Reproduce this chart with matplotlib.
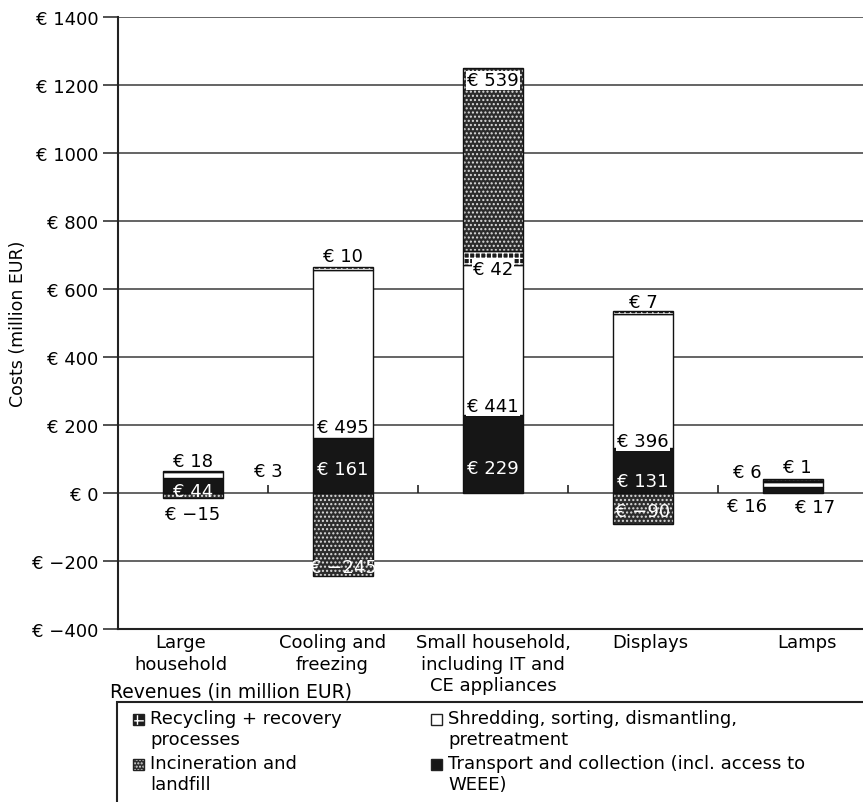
import numpy as np
import matplotlib
matplotlib.use('Agg')
from matplotlib import pyplot as plt
from matplotlib.patches import Rectangle
from matplotlib.ticker import FuncFormatter

# WEEE treatment costs per product category (million EUR), negatives are revenues
categories = ['Large\nhousehold', 'Cooling and\nfreezing',
              'Small household,\nincluding IT and\nCE appliances', 'Displays', 'Lamps']
transport = [44, 161, 229, 131, 17]
shredding = [18, 495, 441, 396, 16]
recycling = [3, 10, 42, 7, 1]
incineration = [-15, -245, 539, -90, 6]

series_names = ['Recycling + recovery\nprocesses', 'Incineration and\nlandfill',
                'Shredding, sorting, dismantling,\npretreatment',
                'Transport and collection (incl. access to\nWEEE)']

yticks = [-400, -200, 0, 200, 400, 600, 800, 1000, 1200, 1400]

FS = 13
plt.rcParams['font.family'] = ['DejaVu Sans']
plt.rcParams['hatch.linewidth'] = 1.0

def euro(v):
    return ('€ %d' % v).replace('-', '\u2212')

# fill / hatch styles of the four stacks (bottom to top)
styles = {
    'transport': dict(color='#161616', hatch=None, hatch_col=None),
    'shredding': dict(color='white', hatch=None, hatch_col=None),
    'recycling': dict(color='#1c1c1c', hatch='+++', hatch_col='white'),
    'incineration': dict(color='#2c2c2c', hatch='....', hatch_col='#dddddd'),
}

# label offsets in pixels from the segment centre, and text colours
label_off = {
    'transport': [(0, -5), (0, -3), (0, -14), (0, -10), (22, -17)],
    'shredding': [(0, 14), (0, -73), (0, -66), (0, -60), (-46, -22)],
    'recycling': [(75, 0), (0, 12), (0, -11), (0, 11), (4, 15)],
    'incineration': [(0, -18), (0, -32), (0, 79), (0, -3), (-46, 8)],
}
label_col = {
    'transport': ['white', 'white', 'white', 'white', 'black'],
    'shredding': ['black'] * 5,
    'recycling': ['black'] * 5,
    'incineration': ['black', 'white', 'black', 'white', 'black'],
}
label_box = {
    'transport': [False] * 5,
    'shredding': [False, True, True, True, False],
    'recycling': [False, False, True, False, False],
    'incineration': [False, False, True, False, False],
}

fig = plt.figure(figsize=(8.63, 8.03), dpi=100)
ax = fig.add_axes([118 / 863, 1 - 630 / 803, 750 / 863, 612 / 803])

x = np.arange(len(categories))
w = 0.4
pos_base = np.zeros(len(x))
neg_base = np.zeros(len(x))
data = [('transport', transport), ('shredding', shredding),
        ('recycling', recycling), ('incineration', incineration)]

for name, vals in data:
    vals = np.array(vals, dtype=float)
    bottoms = np.where(vals >= 0, pos_base, neg_base)
    st = styles[name]
    if st['hatch']:
        ax.bar(x, vals, w, bottom=bottoms, color=st['color'], hatch=st['hatch'],
               edgecolor=st['hatch_col'], linewidth=0, zorder=3)
        ax.bar(x, vals, w, bottom=bottoms, fill=False, edgecolor='#111111',
               linewidth=1.0, zorder=4)
    else:
        ax.bar(x, vals, w, bottom=bottoms, color=st['color'], edgecolor='#111111',
               linewidth=1.0, zorder=3)
    mids = bottoms + vals / 2
    for i in range(len(x)):
        dx, dy = label_off[name][i]
        kw = {}
        if label_box[name][i]:
            kw['bbox'] = dict(facecolor='white', edgecolor='none', pad=0.5)
        ax.annotate(euro(vals[i]), (x[i], mids[i]), xytext=(dx, dy),
                    textcoords='offset pixels', ha='center', va='center',
                    fontsize=FS, color=label_col[name][i], zorder=6, **kw)
    pos_base += np.clip(vals, 0, None)
    neg_base += np.clip(vals, None, 0)

# small separators between categories on the zero line
ax.vlines(x[:-1] + 0.5, 0, 24, color='#222222', linewidth=1.2, zorder=2)

ax.set_xlim(-0.5, len(x) - 0.5)
ax.set_ylim(-400, 1400)
ax.set_yticks(yticks)
ax.yaxis.set_major_formatter(FuncFormatter(lambda v, p: euro(v)))
ax.tick_params(axis='y', direction='out', length=11, width=1.2, color='#333333',
               labelsize=FS, pad=3)
ax.set_xticks([])
ax.yaxis.grid(True, color='#3a3a3a', linewidth=1.1)
ax.set_axisbelow(True)
for s in ['top', 'right']:
    ax.spines[s].set_visible(False)
ax.spines['left'].set_linewidth(1.5)
ax.spines['bottom'].set_linewidth(1.5)
ax.spines['left'].set_color('#222222')
ax.spines['bottom'].set_color('#222222')

ax.set_ylabel('Costs (million EUR)', fontsize=12.5)
ax.yaxis.set_label_coords(-0.121, 0.5)

# category names under the axis
cat_dx = [-0.08, -0.07, 0.0, 0.05, 0.09]
for i, c in enumerate(categories):
    ax.annotate(c, (x[i] + cat_dx[i], 0), xycoords=('data', 'axes fraction'),
                xytext=(0, -4), textcoords='offset pixels', ha='center', va='top',
                fontsize=FS, linespacing=1.25)

fig.text(231 / 863, 1 - 692 / 803, 'Revenues (in million EUR)', ha='center',
         va='center', fontsize=FS + 0.5)

# legend box running off the bottom/right edge
fig.patches.append(Rectangle((117 / 863, -0.05), 1.0, 0.05 + 100 / 803,
                             transform=fig.transFigure, fill=False,
                             edgecolor='#222222', linewidth=1.5))
leg_items = [
    ('recycling', series_names[0], 133, 720),
    ('incineration', series_names[1], 133, 765),
    ('shredding', series_names[2], 431, 720),
    ('transport', series_names[3], 431, 765),
]
for name, label, px, py in leg_items:
    st = styles[name]
    sz = 11
    if st['hatch']:
        fig.patches.append(Rectangle((px / 863, 1 - (py + sz / 2) / 803), sz / 863, sz / 803,
                                     transform=fig.transFigure, facecolor=st['color'],
                                     hatch='++' if name == 'recycling' else '.....',
                                     edgecolor=st['hatch_col'], linewidth=0))
    fig.patches.append(Rectangle((px / 863, 1 - (py + sz / 2) / 803), sz / 863, sz / 803,
                                 transform=fig.transFigure,
                                 facecolor='none' if st['hatch'] else st['color'],
                                 edgecolor='#222222', linewidth=1.0))
    fig.text((px + 17) / 863, 1 - (py - 10) / 803, label, ha='left', va='top',
             fontsize=FS, linespacing=1.25)

fig.savefig('out.png', dpi=100)
